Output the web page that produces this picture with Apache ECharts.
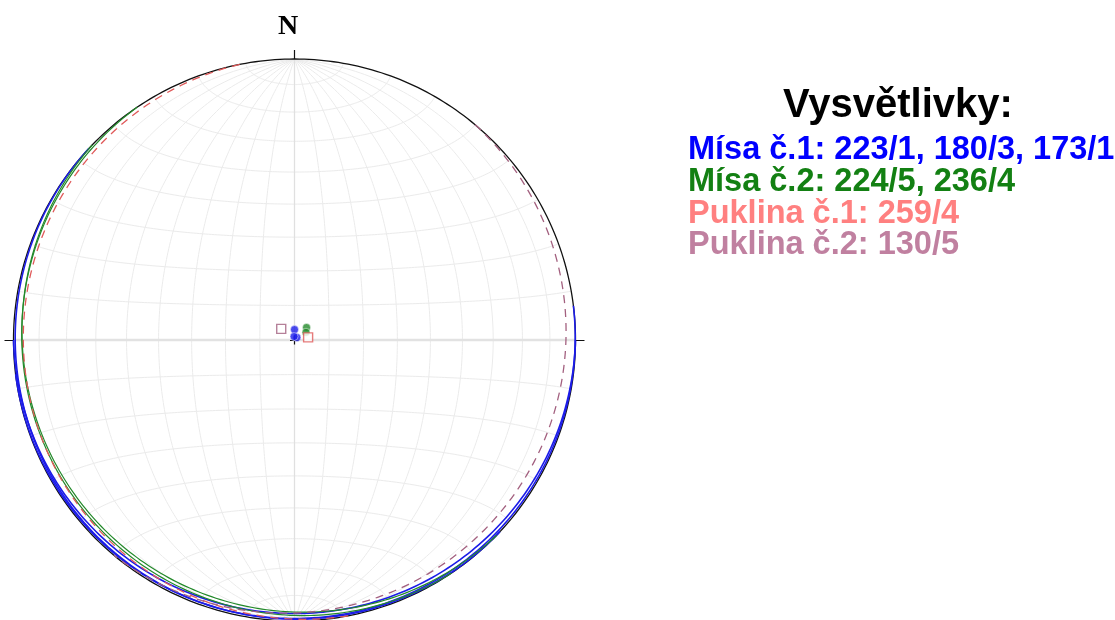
<!DOCTYPE html>
<html>
<head>
<meta charset="utf-8">
<script src="https://cdn.jsdelivr.net/npm/echarts@6/dist/echarts.min.js"></script>
<style>
  html, body { margin: 0; padding: 0; background: #ffffff; }
  #chart { width: 1115px; height: 620px; }
</style>
</head>
<body>
<div id="chart"></div>
<script>
// Plane orientations as [dip direction, dip] in degrees
const misa1 = [[223, 1], [180, 3], [173, 1]];
const misa2 = [[224, 5], [236, 4]];
const puklina1 = [[259, 4]];
const puklina2 = [[130, 5]];

const setNames = ['Mísa č.1', 'Mísa č.2', 'Puklina č.1', 'Puklina č.2'];
const legendTitle = 'Vysvětlivky:';
const northLabel = 'N';
const netStep = 10; // Schmidt net spacing in degrees

const rad = d => d * Math.PI / 180;

// Lower-hemisphere equal-area projection of a line (primitive radius = 1)
function projectLine(trend, plunge) {
  const r = Math.sqrt(Math.max(0, 1 - Math.sin(rad(plunge))));
  return [r * Math.sin(rad(trend)), r * Math.cos(rad(trend))];
}

// Great circle of a plane given by dip direction / dip
function greatCircle(dd, dip) {
  const s = rad(dd - 90), d = rad(dd), p = rad(dip);
  const sv = [Math.cos(s), Math.sin(s), 0];
  const dv = [Math.cos(p) * Math.cos(d), Math.cos(p) * Math.sin(d), Math.sin(p)];
  const pts = [];
  for (let t = 0; t <= 180; t += 1) {
    const c = Math.cos(rad(t)), sn = Math.sin(rad(t));
    const v = [c * sv[0] + sn * dv[0], c * sv[1] + sn * dv[1], c * sv[2] + sn * dv[2]];
    const plunge = Math.asin(Math.min(1, Math.max(-1, v[2]))) * 180 / Math.PI;
    const trend = Math.atan2(v[1], v[0]) * 180 / Math.PI;
    pts.push(projectLine(trend, plunge));
  }
  return pts;
}

// Pole to a plane
function pole(dd, dip) {
  return projectLine(dd + 180, 90 - dip);
}

// Equatorial Schmidt net point for longitude / latitude
function netPoint(lon, lat) {
  const c = 1 + Math.cos(rad(lat)) * Math.cos(rad(lon));
  const k = 1 / Math.sqrt(c);
  return [k * Math.cos(rad(lat)) * Math.sin(rad(lon)), k * Math.sin(rad(lat))];
}

function meridian(lon) {
  const pts = [];
  for (let lat = -90; lat <= 90; lat += 1) pts.push(netPoint(lon, lat));
  return pts;
}
function parallel(lat) {
  const pts = [];
  for (let lon = -90; lon <= 90; lon += 1) pts.push(netPoint(lon, lat));
  return pts;
}

const netLines = [];
for (let a = -90 + netStep; a < 90; a += netStep) {
  if (a !== 0) netLines.push({ coords: meridian(a) });
  if (a !== 0) netLines.push({ coords: parallel(a) });
}

const primitive = [];
for (let t = 0; t <= 360; t += 1) primitive.push(projectLine(t, 0));

const tickLen = 0.032;
const ticks = [0, 90, 270].map(t => ({
  coords: [[Math.sin(rad(t)), Math.cos(rad(t))],
           [(1 + tickLen) * Math.sin(rad(t)), (1 + tickLen) * Math.cos(rad(t))]]
}));
const cross = 0.016;
ticks.push({ coords: [[-cross, 0], [cross, 0]] });
ticks.push({ coords: [[0, -cross], [0, cross]] });

const sets = [
  { name: setNames[0], planes: misa1, line: '#1c1ce8', text: '#0000ff', dash: 'solid', width: 1.6, symbol: 'circle', size: 8 },
  { name: setNames[1], planes: misa2, line: '#23892a', text: '#138013', dash: 'solid', width: 1.2, symbol: 'circle', size: 8 },
  { name: setNames[2], planes: puklina1, line: '#e05a5a', text: '#ff8080', dash: [8, 6], width: 1.3, symbol: 'rect', size: 9 },
  { name: setNames[3], planes: puklina2, line: '#a3607f', text: '#c080a0', dash: [8, 6], width: 1.3, symbol: 'rect', size: 9 }
];

const series = [
  { type: 'lines', coordinateSystem: 'cartesian2d', polyline: true, silent: true, z: 1,
    lineStyle: { color: '#ebebeb', width: 1, opacity: 1 }, data: netLines },
  { type: 'lines', coordinateSystem: 'cartesian2d', polyline: true, silent: true, z: 2,
    lineStyle: { color: '#e0e0e0', width: 1.3, opacity: 1 }, data: [{ coords: meridian(0) }] },
  { type: 'lines', coordinateSystem: 'cartesian2d', polyline: true, silent: true, z: 2,
    lineStyle: { color: '#e2e2e2', width: 2.6, opacity: 1 }, data: [{ coords: parallel(0) }] },
  { type: 'lines', coordinateSystem: 'cartesian2d', polyline: true, silent: true, z: 3,
    lineStyle: { color: '#111111', width: 1.3, opacity: 1 }, data: [{ coords: primitive }] },
  { type: 'lines', coordinateSystem: 'cartesian2d', polyline: false, silent: true, z: 3,
    lineStyle: { color: '#111111', width: 1.2, opacity: 1 }, data: ticks }
];

sets.forEach(s => {
  series.push({
    type: 'lines', coordinateSystem: 'cartesian2d', polyline: true, silent: true, z: 4,
    lineStyle: { color: s.line, width: s.width, type: s.dash, opacity: 1 },
    data: s.planes.map(p => ({ coords: greatCircle(p[0], p[1]) }))
  });
});
sets.forEach(s => {
  const filled = s.symbol === 'circle';
  series.push({
    type: 'scatter', silent: true, z: 6,
    symbol: s.symbol, symbolSize: s.size,
    itemStyle: filled
      ? { color: s.line, borderColor: '#ffffff', borderWidth: 0.6 }
      : { color: '#ffffff', borderColor: s.line, borderWidth: 1.4 },
    data: s.planes.map(p => pole(p[0], p[1]))
  });
});

// Legend text built from the plane lists
const legendLines = sets.map(s => s.name + ': ' + s.planes.map(p => p[0] + '/' + p[1]).join(', '));

const graphic = [
  { type: 'text', left: 278, top: 13, silent: true,
    style: { text: northLabel, fill: '#000', font: 'bold 28px "Liberation Serif", "Times New Roman", serif' } },
  { type: 'text', x: 898, y: 106, silent: true,
    style: { text: legendTitle, fill: '#000', textAlign: 'center', textVerticalAlign: 'middle',
             font: 'bold 40px "Liberation Sans", Arial, sans-serif' } }
];
const lineY = [150, 182, 214, 245];
legendLines.forEach((t, i) => {
  graphic.push({ type: 'text', x: 688, y: lineY[i], silent: true,
    style: { text: t, fill: sets[i].text, textAlign: 'left', textVerticalAlign: 'middle',
             font: 'bold 32.5px "Liberation Sans", Arial, sans-serif' } });
});

// Plot area: 1 unit = 281 px, centre of the net at (294.5, 340); kept inside the canvas
const scale = 281, cx = 294.5, cy = 340;
const xMin = -1.04, xMax = 1.04, yMin = -0.995, yMax = 1.04;
const chart = echarts.init(document.getElementById('chart'), null, { renderer: 'canvas' });
chart.setOption({
  animation: false,
  backgroundColor: '#ffffff',
  grid: {
    left: cx + xMin * scale, top: cy - yMax * scale,
    width: (xMax - xMin) * scale, height: (yMax - yMin) * scale
  },
  xAxis: { type: 'value', min: xMin, max: xMax, show: false },
  yAxis: { type: 'value', min: yMin, max: yMax, show: false },
  series: series,
  graphic: graphic
});
</script>
</body>
</html>
